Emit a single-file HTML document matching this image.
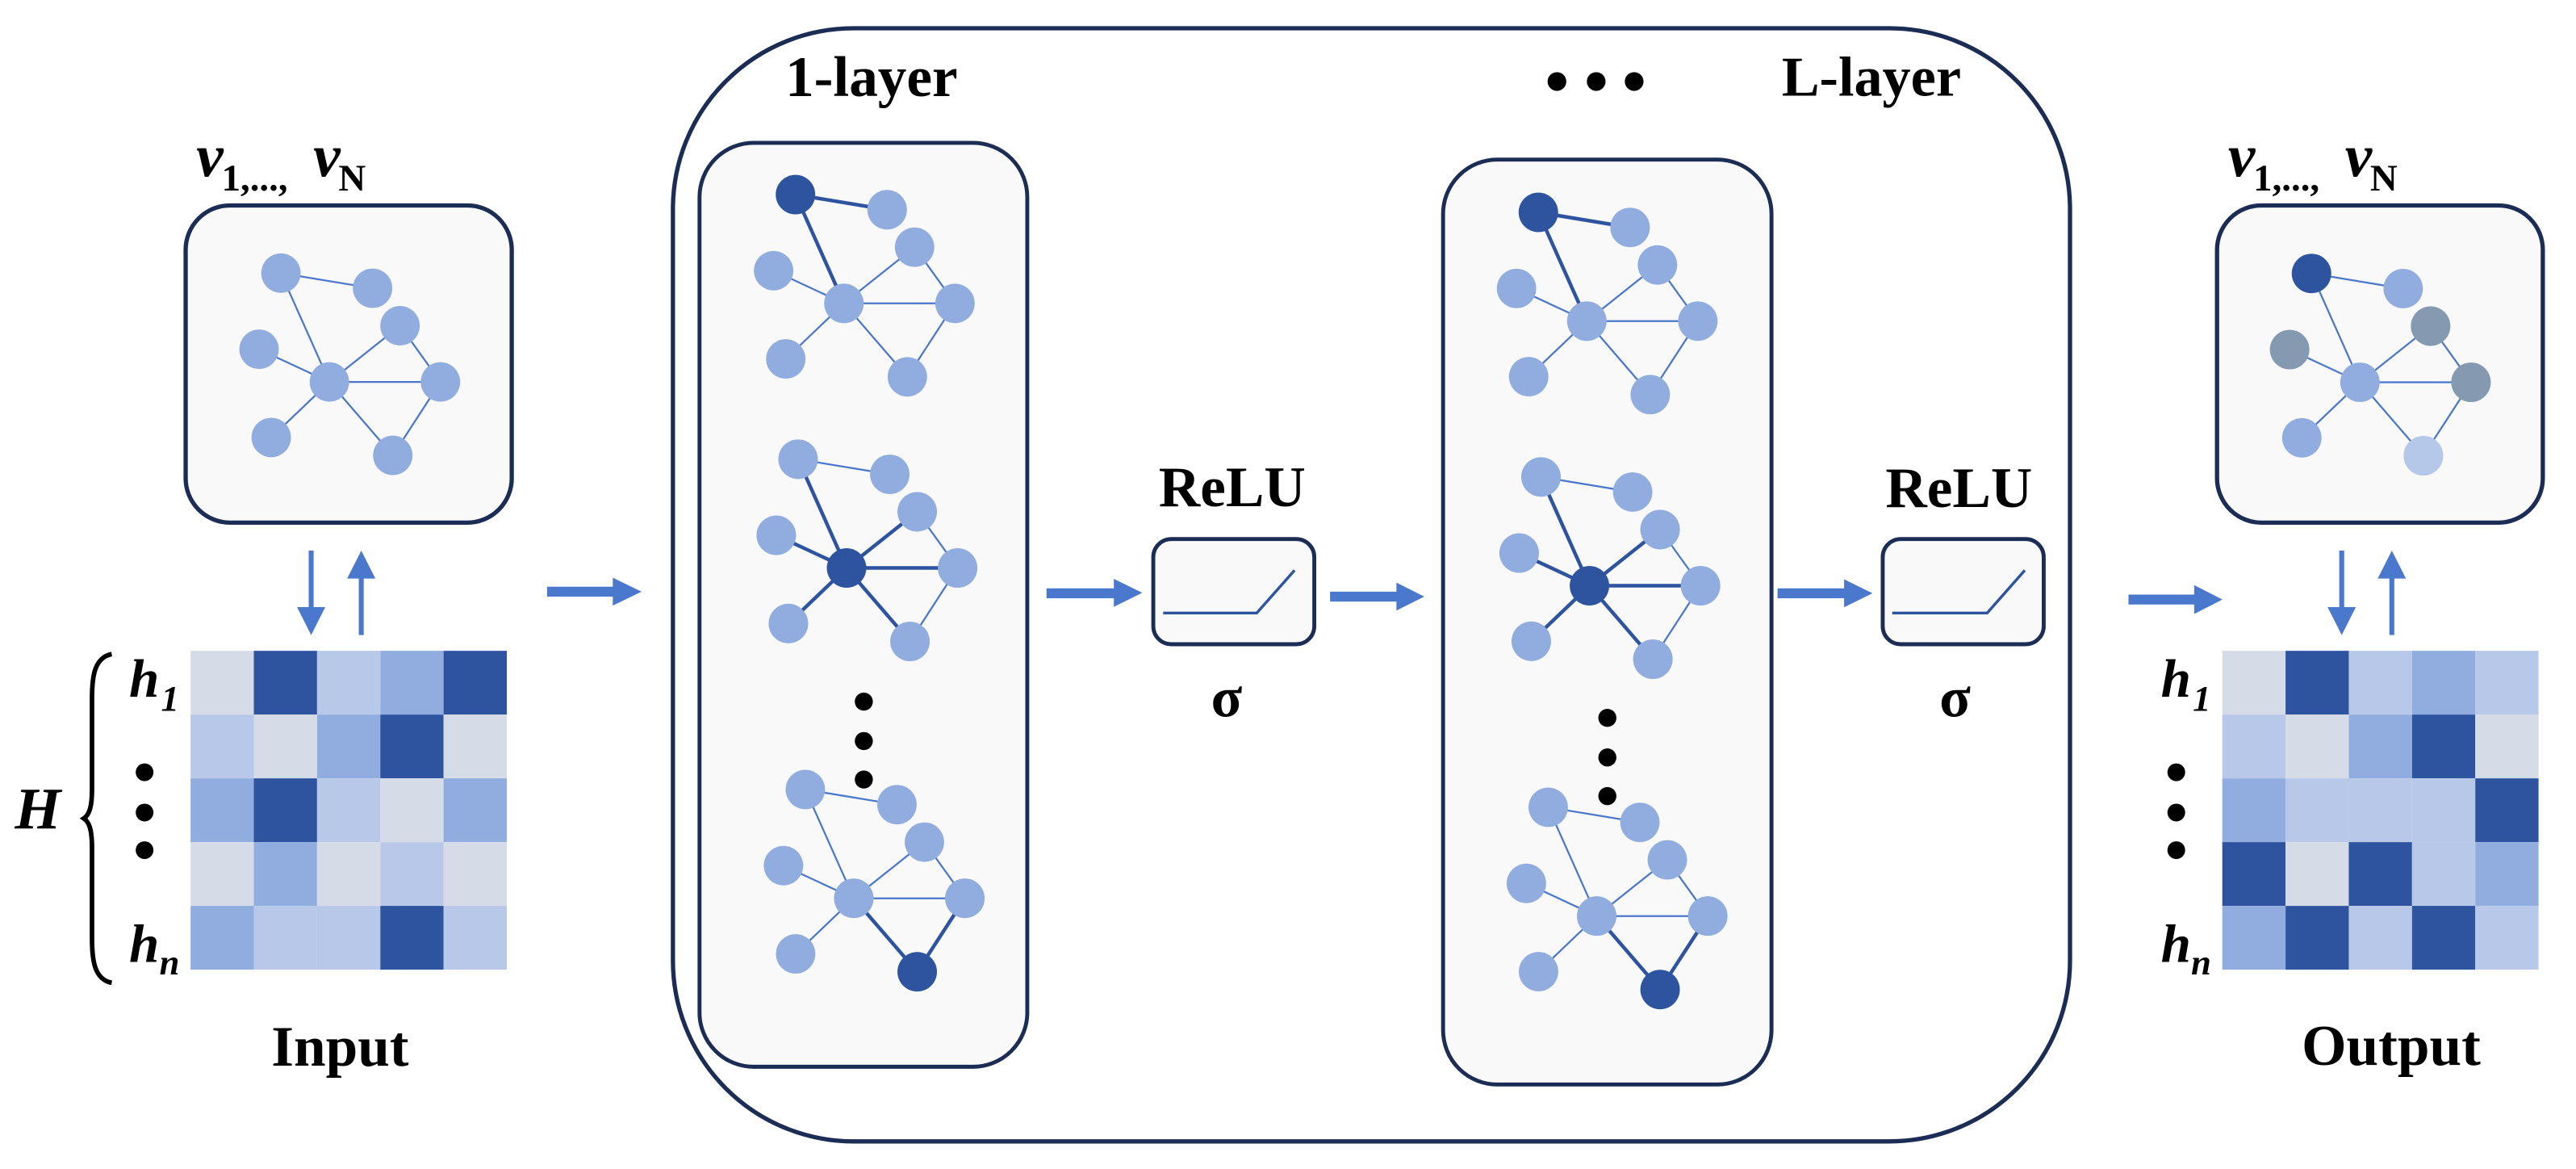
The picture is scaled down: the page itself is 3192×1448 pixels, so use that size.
<!DOCTYPE html>
<html><head><meta charset="utf-8"><style>html,body{margin:0;padding:0;background:#fff}svg{display:block}</style></head><body>
<svg width="3192" height="1448" viewBox="0 0 1568 711.3" preserveAspectRatio="none" xmlns="http://www.w3.org/2000/svg" font-family="'Liberation Serif', serif" font-weight="bold">
<defs>
<g id="base">
<g stroke="#4a76cc" stroke-width="1.1">
<line x1="484.2" y1="118.4" x2="540" y2="127.6"/>
<line x1="484.2" y1="118.4" x2="513.7" y2="184.6"/>
<line x1="470.9" y1="164.7" x2="513.7" y2="184.6"/>
<line x1="556.7" y1="150.4" x2="513.7" y2="184.6"/>
<line x1="513.7" y1="184.6" x2="581.3" y2="184.6"/>
<line x1="556.7" y1="150.4" x2="581.3" y2="184.6"/>
<line x1="513.7" y1="184.6" x2="478.3" y2="218.4"/>
<line x1="513.7" y1="184.6" x2="552.3" y2="229.3"/>
<line x1="581.3" y1="184.6" x2="552.3" y2="229.3"/>
</g>
<g fill="#91addf">
<circle cx="484.2" cy="118.4" r="12"/><circle cx="540" cy="127.6" r="12"/><circle cx="556.7" cy="150.4" r="12"/><circle cx="470.9" cy="164.7" r="12"/><circle cx="513.7" cy="184.6" r="12"/><circle cx="581.3" cy="184.6" r="12"/><circle cx="478.3" cy="218.4" r="12"/><circle cx="552.3" cy="229.3" r="12"/>
</g>
</g>
<g id="hl1">
<g stroke="#2e54a0" stroke-width="2.2">
<line x1="484.2" y1="118.4" x2="540" y2="127.6"/>
<line x1="484.2" y1="118.4" x2="513.7" y2="184.6"/>
</g>
<circle cx="540" cy="127.6" r="12" fill="#91addf"/><circle cx="513.7" cy="184.6" r="12" fill="#91addf"/>
<circle cx="484.2" cy="118.4" r="12" fill="#2e54a0"/>
</g>
<g id="hl2">
<g stroke="#2e54a0" stroke-width="2.2">
<line x1="484.2" y1="118.4" x2="513.7" y2="184.6"/>
<line x1="470.9" y1="164.7" x2="513.7" y2="184.6"/>
<line x1="556.7" y1="150.4" x2="513.7" y2="184.6"/>
<line x1="513.7" y1="184.6" x2="581.3" y2="184.6"/>
<line x1="513.7" y1="184.6" x2="478.3" y2="218.4"/>
<line x1="513.7" y1="184.6" x2="552.3" y2="229.3"/>
</g>
<g fill="#91addf"><circle cx="484.2" cy="118.4" r="12"/><circle cx="556.7" cy="150.4" r="12"/><circle cx="470.9" cy="164.7" r="12"/><circle cx="581.3" cy="184.6" r="12"/><circle cx="478.3" cy="218.4" r="12"/><circle cx="552.3" cy="229.3" r="12"/></g>
<circle cx="513.7" cy="184.6" r="12" fill="#2e54a0"/>
</g>
<g id="hl3">
<g stroke="#2e54a0" stroke-width="2.2">
<line x1="513.7" y1="184.6" x2="552.3" y2="229.3"/>
<line x1="581.3" y1="184.6" x2="552.3" y2="229.3"/>
</g>
<circle cx="513.7" cy="184.6" r="12" fill="#91addf"/><circle cx="581.3" cy="184.6" r="12" fill="#91addf"/>
<circle cx="552.3" cy="229.3" r="12" fill="#2e54a0"/>
</g>
</defs>

<rect x="409.6" y="17.2" width="850.4" height="677.3" rx="110" ry="110" fill="#fff" stroke="#1c2d55" stroke-width="2.6"/>

<rect x="113" y="125" width="198.5" height="193" rx="27" fill="#f9f9f9" stroke="#1c2d55" stroke-width="2.6"/>
<g transform="translate(-313.2,47.8)"><use href="#base"/></g>
<rect x="1349.5" y="125" width="198.3" height="193" rx="27" fill="#f9f9f9" stroke="#1c2d55" stroke-width="2.6"/>
<g transform="translate(922.8,48)"><use href="#base"/>
<circle cx="484.2" cy="118.4" r="12" fill="#2e54a0"/>
<circle cx="556.7" cy="150.4" r="12" fill="#8599b0"/>
<circle cx="470.9" cy="164.7" r="12" fill="#8599b0"/>
<circle cx="581.3" cy="184.6" r="12" fill="#8599b0"/>
<circle cx="552.3" cy="229.3" r="12" fill="#b5c8ea"/>
</g>

<rect x="425.8" y="86.9" width="199.5" height="562.2" rx="33" fill="#f9f9f9" stroke="#1c2d55" stroke-width="2.4"/>
<rect x="878.4" y="97.1" width="199.9" height="562.8" rx="33" fill="#f9f9f9" stroke="#1c2d55" stroke-width="2.4"/>
<g><use href="#base"/><use href="#hl1"/></g>
<g transform="translate(1.6,161)"><use href="#base"/><use href="#hl2"/></g>
<g transform="translate(6,362)"><use href="#base"/><use href="#hl3"/></g>
<g transform="translate(452.2,10.8)"><use href="#base"/><use href="#hl1"/></g>
<g transform="translate(453.8,171.8)"><use href="#base"/><use href="#hl2"/></g>
<g transform="translate(458.2,372.8)"><use href="#base"/><use href="#hl3"/></g>

<g fill="#000">
<circle cx="525.8" cy="426.9" r="5.5"/><circle cx="525.8" cy="450.9" r="5.5"/><circle cx="525.8" cy="474.3" r="5.5"/>
<circle cx="978.4" cy="436.8" r="5.5"/><circle cx="978.4" cy="460.9" r="5.5"/><circle cx="978.4" cy="484.4" r="5.5"/>
<circle cx="947.7" cy="49.6" r="5.7"/><circle cx="971.6" cy="49.6" r="5.7"/><circle cx="994.7" cy="49.6" r="5.7"/>
<circle cx="88" cy="469.9" r="5.4"/><circle cx="88" cy="494.4" r="5.4"/><circle cx="88" cy="517.3" r="5.4"/>
<circle cx="1324.7" cy="469.9" r="5.4"/><circle cx="1324.7" cy="494.4" r="5.4"/><circle cx="1324.7" cy="517.3" r="5.4"/>
</g>

<rect x="702" y="328" width="98" height="64" rx="11" fill="#f9f9f9" stroke="#1c2d55" stroke-width="2.4"/>
<polyline points="708,373 765,373 788,347" fill="none" stroke="#2e54a0" stroke-width="1.7"/>
<rect x="1146" y="328" width="98" height="64" rx="11" fill="#f9f9f9" stroke="#1c2d55" stroke-width="2.4"/>
<polyline points="1151.8,373 1209.6,373 1232.5,347" fill="none" stroke="#2e54a0" stroke-width="1.7"/>

<g fill="#4a78cd">
<path d="M333,357 H373 V351.5 L390.5,360 L373,368.5 V363 H333 Z"/>
<path d="M637,358 H678 V352.2 L695.3,360.7 L678,369.2 V364 H637 Z"/>
<path d="M809.6,360 H850 V354.5 L867,363 L850,371.5 V366 H809.6 Z"/>
<path d="M1082,358 H1122.5 V352.5 L1139.8,361 L1122.5,369.5 V364 H1082 Z"/>
<path d="M1295.6,361.8 H1335.6 V356 L1352.8,364.8 L1335.6,373.6 V367.8 H1295.6 Z"/>
<path d="M187.9,335 H190.9 V369.4 H198 L189.4,386.4 L180.8,369.4 H187.9 Z"/>
<path d="M218.4,386.4 H221.4 V352 H228.5 L219.9,335 L211.3,352 H218.4 Z"/>
<path d="M1423.9,335 H1426.9 V369.4 H1434 L1425.4,386.4 L1416.8,369.4 H1423.9 Z"/>
<path d="M1454.4,386.4 H1457.4 V352 H1464.5 L1455.9,335 L1447.3,352 H1454.4 Z"/>
</g>

<g>
<rect x="116" y="396" width="38.5" height="38.8" fill="#d5dce7"/><rect x="154.5" y="396" width="38.5" height="38.8" fill="#2e54a0"/><rect x="193" y="396" width="38.5" height="38.8" fill="#b7c8e9"/><rect x="231.5" y="396" width="38.5" height="38.8" fill="#91addf"/><rect x="270" y="396" width="38.5" height="38.8" fill="#2e54a0"/>
<rect x="116" y="434.8" width="38.5" height="38.8" fill="#b7c8e9"/><rect x="154.5" y="434.8" width="38.5" height="38.8" fill="#d5dce7"/><rect x="193" y="434.8" width="38.5" height="38.8" fill="#91addf"/><rect x="231.5" y="434.8" width="38.5" height="38.8" fill="#2e54a0"/><rect x="270" y="434.8" width="38.5" height="38.8" fill="#d5dce7"/>
<rect x="116" y="473.6" width="38.5" height="38.8" fill="#91addf"/><rect x="154.5" y="473.6" width="38.5" height="38.8" fill="#2e54a0"/><rect x="193" y="473.6" width="38.5" height="38.8" fill="#b7c8e9"/><rect x="231.5" y="473.6" width="38.5" height="38.8" fill="#d5dce7"/><rect x="270" y="473.6" width="38.5" height="38.8" fill="#91addf"/>
<rect x="116" y="512.4" width="38.5" height="38.8" fill="#d5dce7"/><rect x="154.5" y="512.4" width="38.5" height="38.8" fill="#91addf"/><rect x="193" y="512.4" width="38.5" height="38.8" fill="#d5dce7"/><rect x="231.5" y="512.4" width="38.5" height="38.8" fill="#b7c8e9"/><rect x="270" y="512.4" width="38.5" height="38.8" fill="#d5dce7"/>
<rect x="116" y="551.2" width="38.5" height="38.8" fill="#91addf"/><rect x="154.5" y="551.2" width="38.5" height="38.8" fill="#b7c8e9"/><rect x="193" y="551.2" width="38.5" height="38.8" fill="#b7c8e9"/><rect x="231.5" y="551.2" width="38.5" height="38.8" fill="#2e54a0"/><rect x="270" y="551.2" width="38.5" height="38.8" fill="#b7c8e9"/>
</g>
<g transform="translate(1236.7,0)">
<rect x="116" y="396" width="38.5" height="38.8" fill="#d5dce7"/><rect x="154.5" y="396" width="38.5" height="38.8" fill="#2e54a0"/><rect x="193" y="396" width="38.5" height="38.8" fill="#b7c8e9"/><rect x="231.5" y="396" width="38.5" height="38.8" fill="#91addf"/><rect x="270" y="396" width="38.5" height="38.8" fill="#b7c8e9"/>
<rect x="116" y="434.8" width="38.5" height="38.8" fill="#b7c8e9"/><rect x="154.5" y="434.8" width="38.5" height="38.8" fill="#d5dce7"/><rect x="193" y="434.8" width="38.5" height="38.8" fill="#91addf"/><rect x="231.5" y="434.8" width="38.5" height="38.8" fill="#2e54a0"/><rect x="270" y="434.8" width="38.5" height="38.8" fill="#d5dce7"/>
<rect x="116" y="473.6" width="38.5" height="38.8" fill="#91addf"/><rect x="154.5" y="473.6" width="38.5" height="38.8" fill="#b7c8e9"/><rect x="193" y="473.6" width="38.5" height="38.8" fill="#b7c8e9"/><rect x="231.5" y="473.6" width="38.5" height="38.8" fill="#b7c8e9"/><rect x="270" y="473.6" width="38.5" height="38.8" fill="#2e54a0"/>
<rect x="116" y="512.4" width="38.5" height="38.8" fill="#2e54a0"/><rect x="154.5" y="512.4" width="38.5" height="38.8" fill="#d5dce7"/><rect x="193" y="512.4" width="38.5" height="38.8" fill="#2e54a0"/><rect x="231.5" y="512.4" width="38.5" height="38.8" fill="#b7c8e9"/><rect x="270" y="512.4" width="38.5" height="38.8" fill="#91addf"/>
<rect x="116" y="551.2" width="38.5" height="38.8" fill="#91addf"/><rect x="154.5" y="551.2" width="38.5" height="38.8" fill="#2e54a0"/><rect x="193" y="551.2" width="38.5" height="38.8" fill="#b7c8e9"/><rect x="231.5" y="551.2" width="38.5" height="38.8" fill="#2e54a0"/><rect x="270" y="551.2" width="38.5" height="38.8" fill="#b7c8e9"/>
</g>

<path d="M68,398 C58,400 56,410 56,425 L56,480 C56,492 54,496 51,498 C54,500 56,504 56,516 L56,571 C56,586 58,596 68,598" fill="none" stroke="#000" stroke-width="2.8"/>

<g fill="#000">
<text x="9" y="504" font-size="36" font-style="italic">H</text>
<text x="78.6" y="424" font-size="33" font-style="italic">h</text><text x="98" y="432.2" font-size="22" font-style="italic">1</text>
<text x="78.6" y="585.3" font-size="33" font-style="italic">h</text><text x="97" y="593" font-size="22" font-style="italic">n</text>
<text x="1315.3" y="424" font-size="33" font-style="italic">h</text><text x="1334.7" y="432.2" font-size="22" font-style="italic">1</text>
<text x="1315.3" y="585.3" font-size="33" font-style="italic">h</text><text x="1333.7" y="593" font-size="22" font-style="italic">n</text>

<text x="119.5" y="107.3" font-size="37" font-style="italic">v</text><text x="134.9" y="115.9" font-size="23">1,...,</text>
<text x="190.7" y="107.3" font-size="37" font-style="italic">v</text><text x="206" y="115.9" font-size="23">N</text>
<text x="1356.2" y="107.3" font-size="37" font-style="italic">v</text><text x="1371.6" y="115.9" font-size="23">1,...,</text>
<text x="1427.4" y="107.3" font-size="37" font-style="italic">v</text><text x="1442.7" y="115.9" font-size="23">N</text>

<text x="207" y="648.5" font-size="35" text-anchor="middle">Input</text>
<text x="1455.5" y="648" font-size="35" text-anchor="middle">Output</text>
<text x="478" y="58.5" font-size="35">1-layer</text>
<text x="1084.5" y="58.1" font-size="34.5">L-layer</text>
<text x="750" y="308" font-size="35" text-anchor="middle">ReLU</text>
<text x="1192.4" y="308.6" font-size="35" text-anchor="middle">ReLU</text>
<text x="746.6" y="436" font-size="35" text-anchor="middle">σ</text>
<text x="1190" y="436" font-size="35" text-anchor="middle">σ</text>
</g>
</svg>
</body></html>
